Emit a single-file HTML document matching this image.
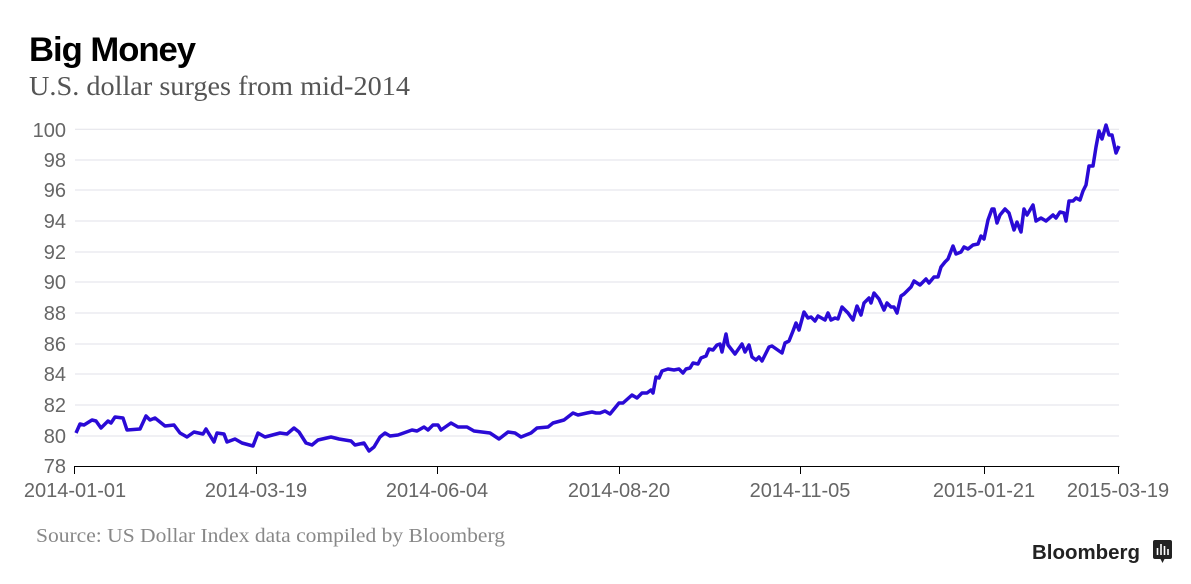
<!DOCTYPE html>
<html><head><meta charset="utf-8"><style>
body{margin:0;background:#fff;width:1191px;height:584px;overflow:hidden}
svg{display:block}
</style></head><body>
<svg width="1191" height="584" xmlns="http://www.w3.org/2000/svg">
<text x="29" y="61" font-family="Liberation Sans, sans-serif" font-weight="bold" font-size="34" letter-spacing="-1" fill="#000" textLength="166" lengthAdjust="spacingAndGlyphs">Big Money</text>
<text x="29" y="95" font-family="Liberation Serif, serif" font-size="27" fill="#555" textLength="381" lengthAdjust="spacingAndGlyphs">U.S. dollar surges from mid-2014</text>
<g stroke="#e2e2e8" stroke-width="1">
<line x1="75" x2="1119" y1="129.3" y2="129.3"/><line x1="75" x2="1119" y1="160" y2="160"/><line x1="75" x2="1119" y1="190" y2="190"/><line x1="75" x2="1119" y1="221" y2="221"/><line x1="75" x2="1119" y1="252" y2="252"/><line x1="75" x2="1119" y1="282" y2="282"/><line x1="75" x2="1119" y1="313" y2="313"/><line x1="75" x2="1119" y1="344" y2="344"/><line x1="75" x2="1119" y1="374" y2="374"/><line x1="75" x2="1119" y1="405" y2="405"/><line x1="75" x2="1119" y1="436" y2="436"/>
</g>
<g font-family="Liberation Sans, sans-serif" font-size="20" fill="#666" text-anchor="end">
<text x="66" y="137">100</text><text x="66" y="167">98</text><text x="66" y="197">96</text><text x="66" y="228">94</text><text x="66" y="259">92</text><text x="66" y="289">90</text><text x="66" y="320">88</text><text x="66" y="351">86</text><text x="66" y="381">84</text><text x="66" y="412">82</text><text x="66" y="443">80</text><text x="66" y="473">78</text>
</g>
<line x1="74.5" x2="1119.5" y1="466.5" y2="466.5" stroke="#000" stroke-width="1"/>
<g stroke="#000" stroke-width="1">
<line x1="74.5" x2="74.5" y1="466" y2="474"/><line x1="256.5" x2="256.5" y1="466" y2="474"/><line x1="437.5" x2="437.5" y1="466" y2="474"/><line x1="619.5" x2="619.5" y1="466" y2="474"/><line x1="800.5" x2="800.5" y1="466" y2="474"/><line x1="984.5" x2="984.5" y1="466" y2="474"/><line x1="1118.5" x2="1118.5" y1="466" y2="474"/>
</g>
<g font-family="Liberation Sans, sans-serif" font-size="20" fill="#666" text-anchor="middle">
<text x="75" y="497">2014-01-01</text><text x="256" y="497">2014-03-19</text><text x="437" y="497">2014-06-04</text><text x="619" y="497">2014-08-20</text><text x="800" y="497">2014-11-05</text><text x="984" y="497">2015-01-21</text><text x="1118" y="497">2015-03-19</text>
</g>
<polyline fill="none" stroke="#2a0ad6" stroke-width="3.5" stroke-linejoin="round" points="76,433 80,424 84,425 92,420 96,421 101,428 108,421 111,423 115,417 123,418 127,430 140,429 146,416 150,420 155,418 165,426 174,425 180,433 187,437 194,432 203,434 206,429 214,442 217,433 224,434 227,442 235,439 242,443 253,446 258,433 265,437 280,433 287,434 294,428 299,432 306,443 312,445 318,440 331,437 339,439 351,441 355,445 364,443 369,451 374,447 380,437 385,433 390,436 398,435 412,430 417,431 424,427 428,430 433,425 438,425 441,430 451,423 458,427 467,427 474,431 490,433 499,439 508,432 515,433 521,437 531,433 537,428 548,427 553,423 564,420 573,413 578,415 587,413 592,412 596,413 600,413 605,411 610,414 619,403 623,403 632,395 637,398 642,393 647,393 651,390 653,393 656,377 659,378 662,371 668,369 674,370 679,369 683,373 686,369 690,368 693,363 698,364 701,358 706,356 709,349 713,350 717,345 720,344 722,352 726,334 728,345 735,354 742,344 745,352 749,345 752,357 756,360 759,357 762,361 769,347 772,346 782,353 785,343 789,341 793,331 796,323 799,330 804,312 808,318 811,317 815,321 818,316 825,320 828,313 831,320 835,318 838,319 842,307 848,313 853,320 857,306 861,315 864,303 869,298 871,303 874,293 879,299 884,310 887,303 891,307 894,307 897,313 901,296 904,294 911,287 914,281 920,285 926,279 929,283 934,277 938,277 941,267 945,262 948,259 953,246 956,254 961,252 964,247 968,249 973,245 978,244 981,236 984,239 988,220 992,209 994,209 997,223 1000,215 1005,209 1009,213 1014,230 1017,222 1021,232 1024,209 1027,215 1033,205 1036,221 1041,218 1046,221 1053,215 1056,218 1060,212 1064,213 1066,221 1069,201 1073,201 1076,198 1080,200 1083,191 1086,185 1089,166 1093,166 1096,147 1099,131 1102,139 1106,125 1109,135 1112,135 1116,153 1119,146"/>
<text x="36" y="542" font-family="Liberation Serif, serif" font-size="20" fill="#888" textLength="469" lengthAdjust="spacingAndGlyphs">Source: US Dollar Index data compiled by Bloomberg</text>
<text x="1032" y="559" font-family="Liberation Sans, sans-serif" font-weight="bold" font-size="20" fill="#222" textLength="108" lengthAdjust="spacingAndGlyphs">Bloomberg</text>
<rect x="1153" y="540" width="19" height="19" rx="2" fill="#222"/>
<path d="M1160 558 L1162.5 563 L1165 558 Z" fill="#222"/>
<g stroke="#fff" stroke-width="1.6"><line x1="1157.5" x2="1157.5" y1="548" y2="555"/><line x1="1161" x2="1161" y1="544" y2="555"/><line x1="1164.5" x2="1164.5" y1="546" y2="555"/><line x1="1168" x2="1168" y1="549" y2="555"/></g>
</svg>
</body></html>
